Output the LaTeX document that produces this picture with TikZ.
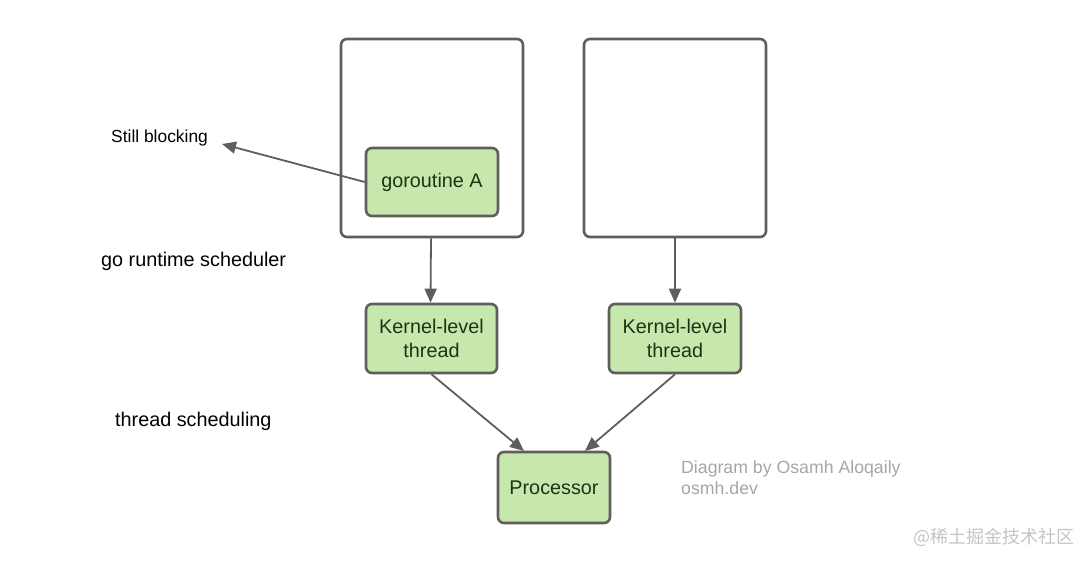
\documentclass[tikz,border=0pt]{standalone}
\usepackage{fontspec}
\setmainfont{Liberation Sans}
\newfontfamily\cjk{Noto Sans CJK SC}
\usetikzlibrary{arrows.meta}
\definecolor{boxline}{HTML}{5E5E5E}
\definecolor{greenfill}{HTML}{C7E8AC}
\definecolor{greentext}{HTML}{1F3314}
\definecolor{credit}{HTML}{A6A6A6}
\definecolor{wm}{HTML}{C4C4C4}
\begin{document}
\begin{tikzpicture}[x=1pt,y=-1pt,
  outer/.style={draw=boxline,line width=2.6pt,rounded corners=6pt,fill=white},
  gbox/.style={draw=boxline,line width=2.6pt,rounded corners=6pt,fill=greenfill,
    text=greentext,font=\fontsize{19.8}{23.5}\selectfont,align=center,inner sep=0pt},
  conn/.style={draw=boxline,line width=1.8pt,-{Triangle[length=14pt,width=12pt]}},
  lbl/.style={font=\fontsize{19.8}{23.5}\selectfont,text=black,inner sep=0pt}]
\path[use as bounding box] (0,0) rectangle (1091,564);
% outer boxes
\node[outer,minimum width=182pt,minimum height=198pt] (L) at (432,138) {};
\node[outer,minimum width=182pt,minimum height=198pt] (R) at (675,138) {};
% green boxes
\node[gbox,minimum width=132pt,minimum height=68pt] (G) at (432,182) {goroutine A};
\node[gbox,minimum width=131pt,minimum height=69pt] (K1) at (431.5,338.5) {Kernel-level\\thread};
\node[gbox,minimum width=132pt,minimum height=69pt] (K2) at (675,338.5) {Kernel-level\\thread};
\node[gbox,minimum width=112pt,minimum height=71pt] (P) at (554,487.5) {Processor};
% labels
\node[lbl,font=\fontsize{17.4}{20}\selectfont,anchor=west] (SB) at (111,138) {Still blocking};
\node[lbl,anchor=west] (GR) at (101,261) {go runtime scheduler};
\node[lbl,anchor=west] (TS) at (115,421) {thread scheduling};
\node[font=\fontsize{17.7}{21.5}\selectfont,text=credit,align=left,anchor=north west,inner sep=0pt] (CR) at (681,460) {Diagram by Osamh Aloqaily\\osmh.dev};
\node[font=\cjk\fontsize{18}{20}\selectfont,text=wm,anchor=west,inner sep=0pt] (WM) at (913,537) {@稀土掘金技术社区};
% connectors
\coordinate (SBend) at (222,144);
\draw[conn] (G.west) -- (SBend);
\draw[conn] ([xshift=-1pt]L.south) -- ([xshift=-1pt]K1.north);
\draw[conn] (R.south) -- (K2.north);
\draw[conn] (K1.south) -- (524,451);
\draw[conn] (K2.south) -- (585,451);
\end{tikzpicture}
\end{document}
